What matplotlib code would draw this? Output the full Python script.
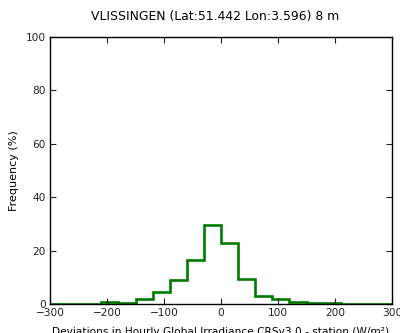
import matplotlib
matplotlib.use("Agg")
import matplotlib.pyplot as plt
import numpy as np

# Histogram of deviations (W/m2): bin edges and frequency (%) per bin
bin_edges = np.arange(-300, 301, 30)
frequency = [0.0, 0.0, 0.0, 0.9, 0.4, 2.0, 4.4, 9.1, 16.5, 29.5,
             22.7, 9.2, 2.9, 1.8, 0.9, 0.4, 0.25, 0.0, 0.0, 0.0]

title = "VLISSINGEN (Lat:51.442 Lon:3.596) 8 m"
xlabel = "Deviations in Hourly Global Irradiance CRSv3.0 - station (W/m\u00b2)"
ylabel = "Frequency (%)"

fig = plt.figure(figsize=(4.0, 3.33), dpi=100)
ax = fig.add_axes([0.125, 0.087, 0.855, 0.802])

ax.stairs(frequency, bin_edges, color="#007a00", linewidth=1.9, baseline=0)

ax.set_xlim(-300, 300)
ax.set_ylim(0, 100)
ax.set_xticks([-300, -200, -100, 0, 100, 200, 300])
ax.set_yticks([0, 20, 40, 60, 80, 100])
ax.tick_params(direction="in", top=True, right=True, labelsize=7.6, length=4,
               pad=3, colors="#222222")
for s in ax.spines.values():
    s.set_linewidth(1.0)

ax.set_title(title, fontsize=8.9, pad=12, x=0.484)
ax.set_xlabel(xlabel, fontsize=7.6, labelpad=6)
ax.set_ylabel(ylabel, fontsize=8, labelpad=5)

fig.savefig("out.png", dpi=100)
